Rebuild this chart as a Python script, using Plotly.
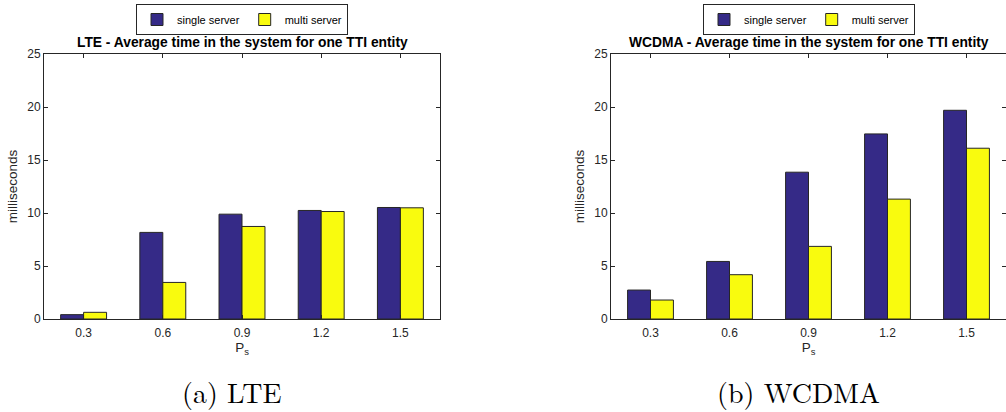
import plotly.graph_objects as go

categories = ["0.3", "0.6", "0.9", "1.2", "1.5"]
lte_single = [0.41, 8.17, 9.89, 10.24, 10.52]
lte_multi = [0.63, 3.45, 8.73, 10.14, 10.49]
wcdma_single = [2.73, 5.43, 13.85, 17.46, 19.69]
wcdma_multi = [1.79, 4.18, 6.85, 11.31, 16.11]
y_ticks = [0, 5, 10, 15, 20, 25]

BLUE = "#352a87"
YELLOW = "#f9fb0e"
AX = "#262626"
W, H = 1006, 412

fig = go.Figure()
fig.add_trace(go.Bar(x=categories, y=lte_single, name="single server", marker=dict(color=BLUE, line=dict(color=AX, width=1)), xaxis="x", yaxis="y", legend="legend"))
fig.add_trace(go.Bar(x=categories, y=lte_multi, name="multi server", marker=dict(color=YELLOW, line=dict(color=AX, width=1)), xaxis="x", yaxis="y", legend="legend"))
fig.add_trace(go.Bar(x=categories, y=wcdma_single, name="single server", marker=dict(color=BLUE, line=dict(color=AX, width=1)), xaxis="x2", yaxis="y2", legend="legend2"))
fig.add_trace(go.Bar(x=categories, y=wcdma_multi, name="multi server", marker=dict(color=YELLOW, line=dict(color=AX, width=1)), xaxis="x2", yaxis="y2", legend="legend2"))

ydom = [(412 - 319) / H, (412 - 54) / H]
xdom1 = [44 / W, 440 / W]
xdom2 = [611 / W, 1.0]

FONT = "Liberation Sans, Arial, sans-serif"

def xax(dom, anchor):
    return dict(domain=dom, anchor=anchor, type="category", range=[-0.5, 4.5],
                showline=True, linecolor=AX, linewidth=1, mirror="ticks",
                ticks="inside", ticklen=4, tickcolor=AX, tickwidth=1,
                tickfont=dict(family=FONT, size=12, color=AX), ticklabelstandoff=3,
                showgrid=False, zeroline=False, automargin=False,
                title=dict(text="P<sub>s</sub>", font=dict(family=FONT, size=13.5, color=AX), standoff=2))

def yax(anchor):
    return dict(domain=ydom, anchor=anchor, range=[0, 25], tickvals=y_ticks,
                showline=True, linecolor=AX, linewidth=1, mirror="ticks",
                ticks="inside", ticklen=4, tickcolor=AX, tickwidth=1,
                tickfont=dict(family=FONT, size=12, color=AX),
                showgrid=False, zeroline=False, automargin=False,
                title=dict(text="milliseconds", font=dict(family=FONT, size=13.5, color=AX), standoff=6))

def leg(xc):
    return dict(orientation="h", x=xc, xanchor="center", y=1 - 4 / H, yanchor="top",
                bordercolor=AX, borderwidth=1, bgcolor="white",
                font=dict(family=FONT, size=11, color="black"),
                itemwidth=30, tracegroupgap=0)

fig.update_layout(
    width=W, height=H, margin=dict(l=0, r=0, t=0, b=0, pad=0, autoexpand=False),
    paper_bgcolor="white", plot_bgcolor="white",
    barmode="group", bargap=0.42, bargroupgap=0,
    xaxis=xax(xdom1, "y"), yaxis=yax("x"),
    xaxis2=xax(xdom2, "y2"), yaxis2=yax("x2"),
    legend=leg(242 / W), legend2=leg(809 / W),
    showlegend=True,
)

titles = [("LTE - Average time in the system for one TTI entity", 242),
          ("WCDMA - Average time in the system for one TTI entity", 809)]
for t, xc in titles:
    fig.add_annotation(text="<b>%s</b>" % t, x=xc / W, y=1 - 43 / H, xref="paper", yref="paper",
                       xanchor="center", yanchor="middle", showarrow=False,
                       font=dict(family=FONT, size=13.8, color="black"))

captions = [("(a) LTE", 232), ("(b) WCDMA", 798)]
for t, xc in captions:
    fig.add_annotation(text=t, x=xc / W, y=1 - 391 / H, xref="paper", yref="paper",
                       xanchor="center", yanchor="middle", showarrow=False,
                       font=dict(family="Latin Modern Roman, CMU Serif, Liberation Serif, serif", size=28, color="black"))

fig.write_html("out.html", config={"displayModeBar": False},
               post_script="document.body.style.margin='0';document.body.style.padding='0';")
